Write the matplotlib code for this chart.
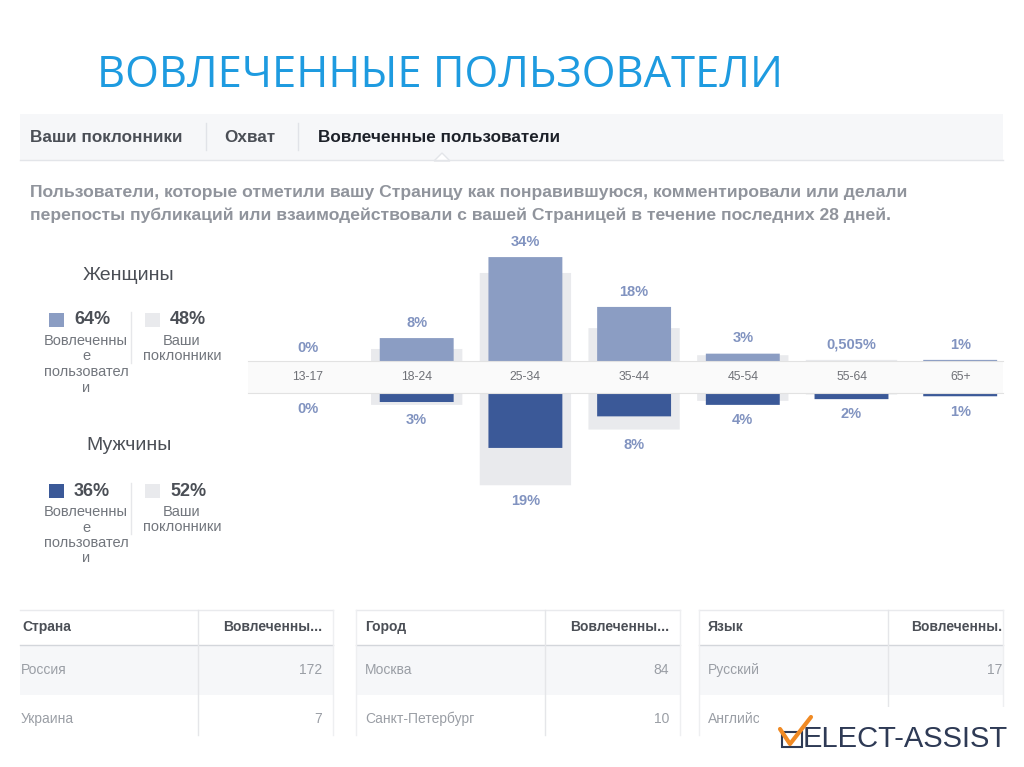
import matplotlib
matplotlib.use("Agg")
import matplotlib.pyplot as plt
from matplotlib.patches import Rectangle, Polygon, FancyBboxPatch

plt.rcParams['font.family'] = ['Liberation Sans', 'DejaVu Sans']

# ---- data ----
AGES = ["13-17", "18-24", "25-34", "35-44", "45-54", "55-64", "65+"]
women_engaged = [0, 8, 34, 18, 3, 0.505, 1]
women_fans = [0, 4.5, 28.9, 11.2, 2.5, 1.0, 0.4]
men_engaged = [0, 3, 19, 8, 4, 2, 1]
men_fans = [0, 4.0, 32.0, 12.6, 2.6, 0.4, 0.2]
women_labels = ["0%", "8%", "34%", "18%", "3%", "0,505%", "1%"]
men_labels = ["0%", "3%", "19%", "8%", "4%", "2%", "1%"]

women_total = ("64%", "48%")
men_total = ("36%", "52%")

tabs = ["Ваши поклонники", "Охват", "Вовлеченные пользователи"]
description = ["Пользователи, которые отметили вашу Страницу как понравившуюся, комментировали или делали",
               "перепосты публикаций или взаимодействовали с вашей Страницей в течение последних 28 дней."]

countries = ["Россия", "Украина"]
country_vals = ["172", "7"]
cities = ["Москва", "Санкт-Петербург"]
city_vals = ["84", "10"]
languages = ["Русский", "Английский"]
language_vals = ["17", ""]

C_LIGHT = "#8b9dc3"
C_DARK = "#3b5998"
C_FAN = "#e9eaed"
C_LABEL = "#8193c0"
C_TXT = "#4b4f56"

W, H = 1024, 767
fig = plt.figure(figsize=(W / 100, H / 100), dpi=100)
bg = fig.add_axes([0, 0, 1, 1])
bg.set_xlim(0, W); bg.set_ylim(H, 0); bg.axis("off")

# title
bg.text(97, 76, "ВОВЛЕЧЕННЫЕ ПОЛЬЗОВАТЕЛИ", fontsize=31.3, color="#1e9be0",
        family=["Open Sans", "DejaVu Sans"], va="center", ha="left")

# tab bar
bg.add_patch(Rectangle((20, 114), 983, 46, facecolor="#f6f7f9", edgecolor="none"))
bg.plot([20, 1003], [160, 160], color="#e3e5e9", lw=1)
for xs in (206, 298):
    bg.plot([xs, xs], [123, 150], color="#e1e3e8", lw=1)
for x, t, c in zip((30, 224, 318), tabs, (C_TXT, C_TXT, "#1d2129")):
    bg.text(x, 137, t, fontsize=12.3, fontweight="bold", color=c, va="center")
bg.add_patch(Polygon([(434, 161), (442, 153), (450, 161)], closed=True,
                     facecolor="white", edgecolor="#e3e5e9", lw=1))

for i, line in enumerate(description):
    bg.text(30, 193 + i * 22, line, fontsize=12.6, fontweight="bold", color="#90949c", va="center")

# left legend panel
def gender_block(y0, title, totals, color):
    bg.text(129, y0, title, fontsize=14, color=C_TXT, ha="center", va="center")
    ys = y0 + 45
    bg.add_patch(Rectangle((49, ys - 7), 15, 14, facecolor=color, edgecolor="none"))
    bg.text(74, ys, totals[0], fontsize=13, fontweight="bold", color=C_TXT, va="center")
    bg.add_patch(Rectangle((145, ys - 7), 15, 14, facecolor=C_FAN, edgecolor="none"))
    bg.text(170, ys, totals[1], fontsize=13, fontweight="bold", color=C_TXT, va="center")
    bg.plot([131, 131], [ys - 8, ys + 43], color="#e6e7ea", lw=1)
    for k, w in enumerate(["Вовлеченны", "е", "пользовател", "и"]):
        bg.text(86, ys + 21 + k * 15.5, w, fontsize=10.5, color="#72767d", ha="center", va="center")
    for k, w in enumerate(["Ваши", "поклонники"]):
        bg.text(182, ys + 21 + k * 15.0, w, fontsize=10.5, color="#72767d", ha="center", va="center")

gender_block(275, "Женщины", women_total, C_LIGHT)
gender_block(446, "Мужчины", men_total, C_DARK)

# ---- age pyramid: two axes sharing the category scale ----
px0, px1 = 248, 1003
step = 108.7
xl = ((px0 - 308) / step, (px1 - 308) / step)
x = list(range(len(AGES)))


def round_bars(ax, bars, color, z):
    # swap plain rectangles for slightly rounded ones (Facebook style)
    for r in bars:
        r.set_visible(False)
        if r.get_height() == 0:
            continue
        ax.add_patch(FancyBboxPatch((r.get_x(), r.get_y()), r.get_width(), r.get_height(),
                                    boxstyle="round,pad=0,rounding_size=0.02",
                                    mutation_aspect=1 / 6, facecolor=color,
                                    edgecolor="none", zorder=z))


top = fig.add_axes([px0 / W, (H - 363) / H, (px1 - px0) / W, 133 / H])
top.set_xlim(*xl); top.set_ylim(0, 133 / 3.115); top.axis("off")
round_bars(top, top.bar(x, women_fans, width=0.84, color=C_FAN, zorder=1), C_FAN, 1)
round_bars(top, top.bar(x, women_engaged, width=0.68, color=C_LIGHT, zorder=2), C_LIGHT, 2)
for xi, a, b, lab in zip(x, women_engaged, women_fans, women_labels):
    top.annotate(lab, (xi, max(a, b)), xytext=(0, 11), textcoords="offset points",
                 ha="center", va="center", fontsize=10.5, fontweight="bold", color=C_LABEL)

bot = fig.add_axes([px0 / W, (H - 530) / H, (px1 - px0) / W, 136.6 / H])
bot.set_xlim(*xl); bot.set_ylim(136.6 / 2.87, 0); bot.axis("off")
round_bars(bot, bot.bar(x, men_fans, width=0.84, color=C_FAN, zorder=1), C_FAN, 1)
round_bars(bot, bot.bar(x, men_engaged, width=0.68, color=C_DARK, zorder=2), C_DARK, 2)
for xi, a, b, lab in zip(x, men_engaged, men_fans, men_labels):
    bot.annotate(lab, (xi, max(a, b)), xytext=(0, -11), textcoords="offset points",
                 ha="center", va="center", fontsize=10.5, fontweight="bold", color=C_LABEL)

band = fig.add_axes([px0 / W, (H - 393) / H, (px1 - px0) / W, 32 / H])
band.set_xlim(*xl); band.set_ylim(0, 1)
band.set_facecolor("#fafafa")
band.set_xticks([]); band.set_yticks([])
for s in ("left", "right"):
    band.spines[s].set_visible(False)
for s in ("top", "bottom"):
    band.spines[s].set_color("#e2e2e2")
for xi, age in zip(x, AGES):
    band.text(xi, 0.5, age, ha="center", va="center", fontsize=8.8, color="#6f7177")

# ---- bottom tables ----
tables = [
    (20, 198, 333, "Страна", countries, country_vals, "Вовлеченны..."),
    (356, 545, 680, "Город", cities, city_vals, "Вовлеченны..."),
    (699, 888, 1003, "Язык", languages, language_vals, "Вовлеченны."),
]
for left, sep, right, head, names, vals, vhead in tables:
    bg.plot([left, right], [610, 610], color="#e9eaed", lw=1)
    bg.add_patch(Rectangle((left, 645), right - left, 50, facecolor="#f6f7f9", edgecolor="none"))
    bg.plot([left, right], [645, 645], color="#d3d6db", lw=1)
    bg.plot([sep, sep], [610, 735], color="#e5e6e9", lw=1)
    bg.plot([right, right], [610, 735], color="#eeeff1", lw=1)
    if left > 20:
        bg.plot([left, left], [610, 735], color="#eeeff1", lw=1)
    bg.text(left + 2 if left == 20 else left + 9, 627, head, fontsize=10, fontweight="bold",
            color=C_TXT, va="center")
    bg.text(right - 11 if right < 1000 else right - 1, 627, vhead, fontsize=10, fontweight="bold",
            color=C_TXT, va="center", ha="right")
    for k, (n, v) in enumerate(zip(names, vals)):
        yy = 670 + k * 49
        bg.text(left + 1 if left == 20 else left + 9, yy, n, fontsize=10, color="#9a9ea5", va="center")
        bg.text(right - 11 if right < 1000 else right - 1, yy, v, fontsize=10, color="#9a9ea5",
                va="center", ha="right")

# logo
bg.add_patch(Rectangle((759, 707), 265, 60, facecolor="white", edgecolor="none", zorder=5))
bg.add_patch(Rectangle((782, 732), 20, 15, facecolor="none", edgecolor="#2e3a55", lw=1.5, zorder=6))
bg.plot([780, 790, 811], [729, 744, 717], color="#f08a24", lw=3, zorder=7,
        solid_capstyle="round", solid_joinstyle="round")
bg.text(803, 747, "ELECT-ASSIST", fontsize=21, color="#2e3a55", va="baseline", zorder=6)

fig.savefig("out.png", dpi=100)
